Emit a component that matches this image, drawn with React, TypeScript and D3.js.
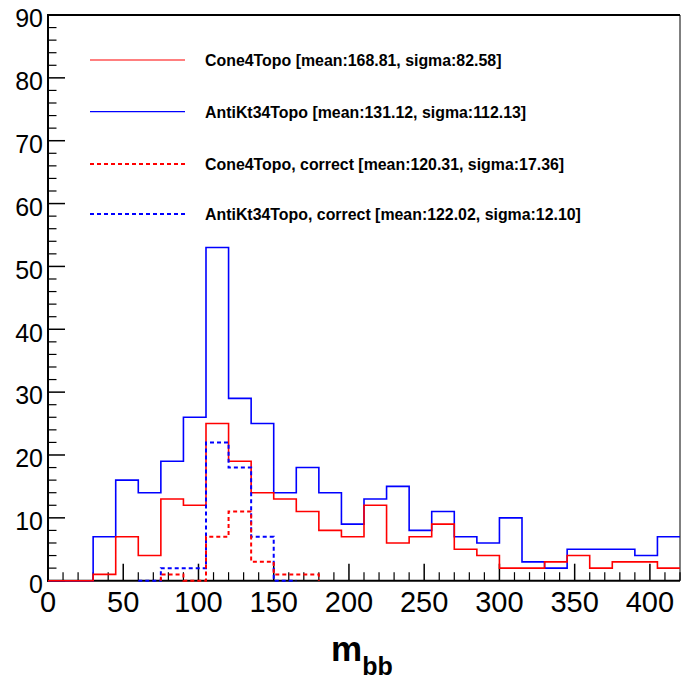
import React from "react";
import * as d3 from "d3";

const W = 681;
const H = 680;

// histogram binning: 28 bins of width 15 from 0 to 420
const binStart = 0;
const binWidth = 15;

// Cone4Topo (solid red), bins from 0
const cone4Topo = [0, 0, 1, 7, 4, 13, 12, 25, 19, 14, 13, 11, 8, 7, 12, 6, 7, 9, 5, 4, 2, 2, 3, 4, 2, 3, 3, 2];
// AntiKt34Topo (solid blue), bins from 0
const antiKt34Topo = [0, 0, 7, 16, 14, 19, 26, 53, 29, 25, 14, 18, 14, 9, 13, 15, 8, 11, 7, 6, 10, 3, 2, 5, 5, 5, 4, 7];
// Cone4Topo, correct (dashed red), bins from index 5 (75)
const cone4CorrectFirstBin = 5;
const cone4Correct = [1, 0, 7, 11, 3, 1, 1];
// AntiKt34Topo, correct (dashed blue), bins from index 4 (60)
const antiKtCorrectFirstBin = 4;
const antiKtCorrect = [0, 2, 2, 22, 18, 7, 0];

const legendLabels = [
  "Cone4Topo [mean:168.81, sigma:82.58]",
  "AntiKt34Topo [mean:131.12, sigma:112.13]",
  "Cone4Topo, correct [mean:120.31, sigma:17.36]",
  "AntiKt34Topo, correct [mean:122.02, sigma:12.10]",
];
const legendColors = ["#ff0000", "#0000ff", "#ff0000", "#0000ff"];
const legendDashed = [false, false, true, true];

const xTicksMajor = [0, 50, 100, 150, 200, 250, 300, 350, 400];
const yTicksMajor = [0, 10, 20, 30, 40, 50, 60, 70, 80, 90];

const FONT = "'Liberation Sans', Arial, Helvetica, sans-serif";

const m = { left: 48, right: 680, top: 15, bottom: 580.7 };

export default function App() {
  const x = d3.scaleLinear().domain([0, 420]).range([m.left, m.right]);
  const y = d3.scaleLinear().domain([0, 90]).range([m.bottom, m.top]);

  const stepPath = (vals: number[], firstBin: number, closeStart: boolean, closeEnd: boolean) => {
    const pts: [number, number][] = [];
    const e0 = binStart + firstBin * binWidth;
    if (closeStart) pts.push([e0, 0]);
    vals.forEach((v, i) => pts.push([binStart + (firstBin + i) * binWidth, v]));
    const eEnd = binStart + (firstBin + vals.length) * binWidth;
    pts.push([eEnd, vals[vals.length - 1]]);
    if (closeEnd) pts.push([eEnd, 0]);
    const line = d3
      .line<[number, number]>()
      .x((d) => x(d[0]))
      .y((d) => y(d[1]))
      .curve(d3.curveStepAfter);
    return line(pts) || "";
  };

  const xMinor = d3.range(0, 421, 10).filter((v) => v % 50 !== 0);
  const yMinor = d3.range(0, 91, 2).filter((v) => v % 10 !== 0);

  return (
    <svg
      width={W}
      height={H}
      style={{ position: "absolute", left: 0, top: 0, background: "#fff" }}
      fontFamily={FONT}
    >
      <rect x={0} y={0} width={W} height={H} fill="#fff" />
      {/* frame */}
      <line x1={m.left} x2={m.right} y1={m.top} y2={m.top} stroke="#000" strokeWidth={2} />
      <line x1={m.right} x2={m.right} y1={m.top} y2={m.bottom} stroke="#000" strokeWidth={1} />
      <line x1={m.left} x2={m.left} y1={m.top - 1} y2={m.bottom + 1} stroke="#000" strokeWidth={2} />
      <line x1={m.left - 1} x2={m.right} y1={m.bottom} y2={m.bottom} stroke="#000" strokeWidth={2} />

      {/* x ticks */}
      {xTicksMajor.map((t) => (
        <line key={"xM" + t} x1={x(t)} x2={x(t)} y1={m.bottom} y2={m.bottom - 17} stroke="#000" strokeWidth={1.5} />
      ))}
      {xMinor.map((t) => (
        <line key={"xm" + t} x1={x(t)} x2={x(t)} y1={m.bottom} y2={m.bottom - 8.5} stroke="#000" strokeWidth={1.2} />
      ))}
      {xTicksMajor.map((t) => (
        <text key={"xl" + t} x={x(t)} y={612} textAnchor="middle" fontSize={29} fill="#000">
          {t}
        </text>
      ))}

      {/* y ticks */}
      {yTicksMajor.map((t) => (
        <line key={"yM" + t} x1={m.left} x2={m.left + 17} y1={y(t)} y2={y(t)} stroke="#000" strokeWidth={1.5} />
      ))}
      {yMinor.map((t) => (
        <line key={"ym" + t} x1={m.left} x2={m.left + 8.5} y1={y(t)} y2={y(t)} stroke="#000" strokeWidth={1.2} />
      ))}
      {yTicksMajor.map((t) => (
        <text key={"yl" + t} x={43} y={y(t) + 12.3} textAnchor="end" fontSize={25} fill="#000">
          {t}
        </text>
      ))}

      {/* histograms */}
      <path d={stepPath(antiKt34Topo, 0, false, false)} fill="none" stroke="#0000ff" strokeWidth={1.6} />
      <path d={stepPath(cone4Topo, 0, false, false)} fill="none" stroke="#ff0000" strokeWidth={1.6} />
      <path
        d={stepPath(antiKtCorrect, antiKtCorrectFirstBin, true, true)}
        fill="none"
        stroke="#0000ff"
        strokeWidth={2}
        strokeDasharray="4,3"
      />
      <path
        d={stepPath(cone4Correct, cone4CorrectFirstBin, true, true)}
        fill="none"
        stroke="#ff0000"
        strokeWidth={2}
        strokeDasharray="4,3"
      />

      {/* legend */}
      {legendLabels.map((lab, i) => {
        const ly = [60, 111.7, 164, 214][i];
        return (
          <g key={"lg" + i}>
            <line
              x1={90}
              x2={185}
              y1={ly}
              y2={ly}
              stroke={legendColors[i]}
              strokeWidth={legendDashed[i] ? 2 : 1.2}
              strokeDasharray={legendDashed[i] ? "4,3" : undefined}
            />
            <text x={205} y={ly + 6} fontSize={15.9} fontWeight="bold" fill="#000">
              {lab}
            </text>
          </g>
        );
      })}

      {/* x title */}
      <text x={331} y={661} fontSize={35} fontWeight="bold" fill="#000">
        m
        <tspan fontSize={25} dy={14}>
          bb
        </tspan>
      </text>
    </svg>
  );
}
